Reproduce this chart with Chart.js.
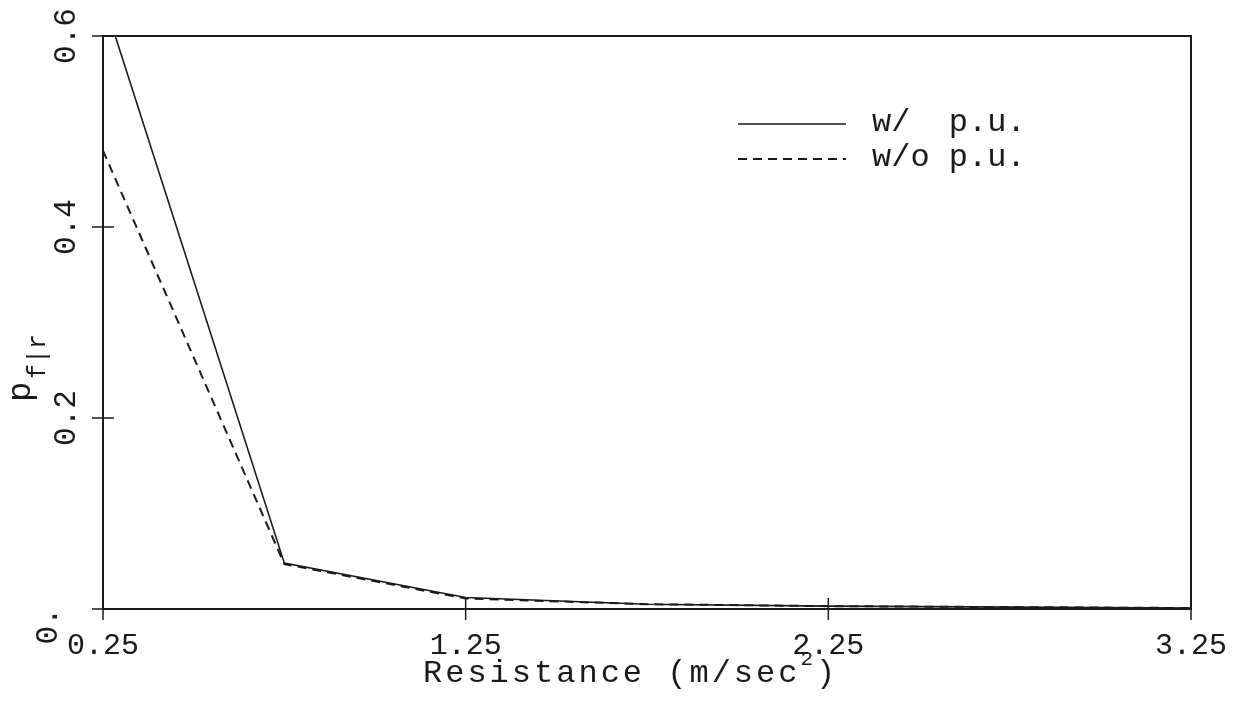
<!DOCTYPE html>
<html>
<head>
<meta charset="utf-8">
<script src="https://cdn.jsdelivr.net/npm/chart.js@4/dist/chart.umd.min.js"></script>
<style>
  html, body { margin: 0; padding: 0; background: #fff; }
  #wrap { width: 1238px; height: 707px; }
</style>
</head>
<body>
<div id="wrap"><canvas id="line-chart"></canvas></div>
<script>
// data
var resistance = [0.25, 0.75, 1.25, 1.75, 2.25, 2.75, 3.25];
var withPU     = [0.64, 0.048, 0.012, 0.005, 0.003, 0.002, 0.001];
var withoutPU  = [0.48, 0.047, 0.011, 0.005, 0.003, 0.002, 0.001];
var seriesNames = ["w/  p.u.", "w/o p.u."];

var xTicks = [0.25, 1.25, 2.25, 3.25];
var xTickLabels = ["0.25", "1.25", "2.25", "3.25"];
var yTicks = [0, 0.2, 0.4, 0.6];
var yTickLabels = ["0.", "0.2", "0.4", "0.6"];

var ink = "#1a1a1a";
var mono = "'Liberation Mono', 'DejaVu Sans Mono', monospace";

function pts(ys) {
  return resistance.map(function (x, i) { return { x: x, y: ys[i] }; });
}

/* frame, crossing tick marks, rotated y labels, axis titles, legend */
var decor = {
  id: "decor",
  afterDraw: function (chart) {
    var ctx = chart.ctx, a = chart.chartArea;
    var xs = chart.scales.x, ys = chart.scales.y;
    ctx.save();
    ctx.strokeStyle = ink;
    ctx.lineWidth = 2;
    ctx.strokeRect(a.left, a.top, a.right - a.left, a.bottom - a.top);

    ctx.lineWidth = 1.5;
    ctx.beginPath();
    xTicks.forEach(function (v) {
      var px = xs.getPixelForValue(v);
      ctx.moveTo(px, a.bottom - 11);
      ctx.lineTo(px, a.bottom + 11);
    });
    yTicks.forEach(function (v) {
      var py = ys.getPixelForValue(v);
      ctx.moveTo(a.left - 11, py);
      ctx.lineTo(a.left + 11, py);
    });
    ctx.stroke();

    // y tick labels, turned on their side
    ctx.fillStyle = ink;
    ctx.font = "31px " + mono;
    ctx.textAlign = "center";
    ctx.textBaseline = "middle";
    yTicks.forEach(function (v, i) {
      var py = ys.getPixelForValue(v);
      var dx = 0, dy = 0;
      if (v === 0) { dx = -18; dy = 17; }
      ctx.save();
      ctx.translate(a.left - 36 + dx, py + dy);
      ctx.rotate(-Math.PI / 2);
      ctx.fillText(yTickLabels[i], 0, 0);
      ctx.restore();
    });

    // y title p_{f|r}
    ctx.save();
    ctx.translate(30, 402);
    ctx.rotate(-Math.PI / 2);
    ctx.textAlign = "left";
    ctx.textBaseline = "alphabetic";
    ctx.font = "34px " + mono;
    ctx.fillText("p", 0, 0);
    ctx.font = "25px " + mono;
    ctx.fillText("f|r", 23, 15);
    ctx.restore();

    // x title with raised exponent
    ctx.save();
    ctx.textAlign = "left";
    ctx.textBaseline = "alphabetic";
    ctx.letterSpacing = "3px";
    ctx.font = "32px " + mono;
    var tx = 423, base = 682;
    var part1 = "Resistance (m/sec";
    ctx.fillText(part1, tx, base);
    tx += ctx.measureText(part1).width;
    ctx.font = "21px " + mono;
    ctx.fillText("2", tx, base - 17);
    tx += ctx.measureText("2").width;
    ctx.font = "32px " + mono;
    ctx.fillText(")", tx, base);
    ctx.restore();

    // legend
    ctx.font = "32px " + mono;
    ctx.textAlign = "left";
    ctx.textBaseline = "middle";
    var rows = [124, 159];
    chart.data.datasets.forEach(function (ds, i) {
      ctx.save();
      ctx.strokeStyle = ink;
      ctx.lineWidth = ds.borderWidth;
      ctx.setLineDash(ds.borderDash || []);
      ctx.beginPath();
      ctx.moveTo(738, rows[i]);
      ctx.lineTo(846, rows[i]);
      ctx.stroke();
      ctx.restore();
      ctx.fillText(ds.label, 872, rows[i] - 1);
    });
    ctx.restore();
  }
};

new Chart(document.getElementById("line-chart"), {
  type: "line",
  data: {
    datasets: [
      {
        label: seriesNames[0],
        data: pts(withPU),
        borderColor: ink,
        borderWidth: 1.6,
        pointRadius: 0,
        fill: false,
        tension: 0
      },
      {
        label: seriesNames[1],
        data: pts(withoutPU),
        borderColor: ink,
        borderWidth: 2,
        borderDash: [9, 6],
        pointRadius: 0,
        fill: false,
        tension: 0
      }
    ]
  },
  options: {
    responsive: true,
    maintainAspectRatio: false,
    animation: false,
    layout: { padding: { top: 36, right: 44, left: 0, bottom: 0 } },
    plugins: {
      legend: { display: false },
      tooltip: { enabled: false }
    },
    scales: {
      x: {
        type: "linear",
        min: 0.25,
        max: 3.25,
        afterBuildTicks: function (s) { s.ticks = xTicks.map(function (v) { return { value: v }; }); },
        afterFit: function (s) { s.height = 98; },
        grid: { display: false },
        border: { display: false },
        ticks: {
          color: ink,
          font: { family: mono, size: 30 },
          padding: 11,
          maxRotation: 0,
          callback: function (v) { return xTickLabels[xTicks.indexOf(v)]; }
        },
        title: { display: false }
      },
      y: {
        min: 0,
        max: 0.6,
        afterBuildTicks: function (s) { s.ticks = yTicks.map(function (v) { return { value: v }; }); },
        afterFit: function (s) { s.width = 103; },
        grid: { display: false },
        border: { display: false },
        ticks: { display: false }
      }
    }
  },
  plugins: [decor]
});
</script>
</body>
</html>
